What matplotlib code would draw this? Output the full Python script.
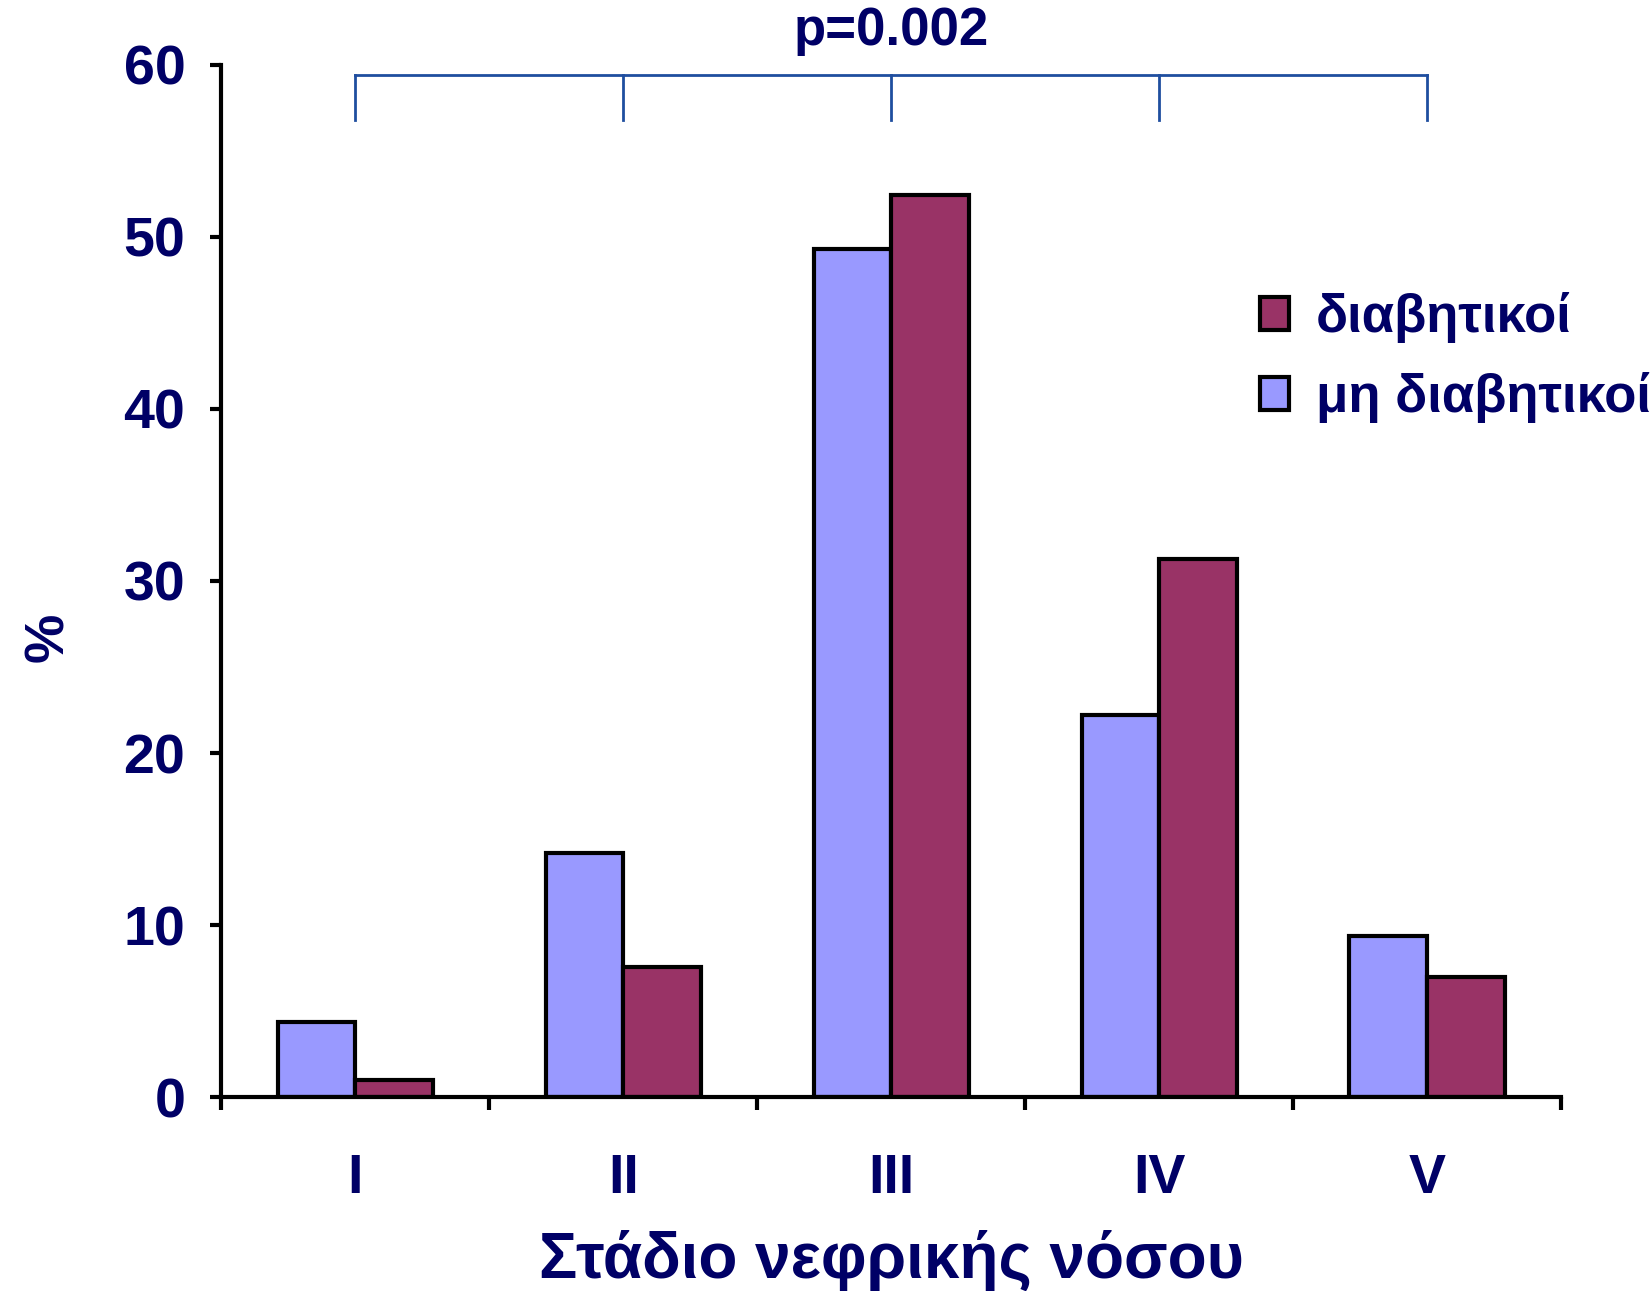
import matplotlib
matplotlib.use("Agg")
import matplotlib.pyplot as plt
import numpy as np
from matplotlib.patches import Patch

plt.rcParams['font.family'] = ['Liberation Sans', 'DejaVu Sans']
plt.rcParams['font.weight'] = 'bold'

stages = ["I", "II", "III", "IV", "V"]
non_diabetic = [4.4, 14.2, 49.3, 22.2, 9.4]
diabetic = [1.0, 7.6, 52.4, 31.3, 7.0]
p_text = "p=0.002"

navy = "#000066"
blue = "#9999FF"
maroon = "#993366"
bracket_col = "#1F4E9F"

fig = plt.figure(figsize=(16.52, 12.91), dpi=100)
ax = fig.add_axes([0.134, 0.150, 0.811, 0.800])

x = np.arange(len(stages))
w = 0.29
ax.bar(x - w / 2, non_diabetic, w, color=blue, edgecolor="black", linewidth=3, zorder=3)
ax.bar(x + w / 2, diabetic, w, color=maroon, edgecolor="black", linewidth=3, zorder=3)

ax.set_xlim(-0.5, len(stages) - 0.5)
ax.set_ylim(0, 60)

# spines: only left and bottom
for side in ("top", "right"):
    ax.spines[side].set_visible(False)
for side in ("left", "bottom"):
    ax.spines[side].set_linewidth(3)
    ax.spines[side].set_color("black")
    ax.spines[side].set_zorder(4)

ax.set_yticks(range(0, 61, 10))
ax.tick_params(axis="y", direction="out", length=8, width=3, pad=18,
               labelsize=40, labelcolor=navy)

# x ticks marks sit between the groups, labels at group centres
ax.set_xticks(np.arange(-0.5, len(stages), 1.0))
ax.set_xticklabels([])
ax.set_xticks(x, minor=True)
ax.set_xticklabels(stages, minor=True)
ax.tick_params(axis="x", which="major", direction="out", length=9, width=3)
ax.tick_params(axis="x", which="minor", length=0, pad=40, labelsize=40, labelcolor=navy)
for lab in ax.get_yticklabels() + ax.get_xticklabels(minor=True):
    lab.set_fontweight("bold")

ax.set_xlabel("Στάδιο νεφρικής νόσου", fontsize=46, color=navy, fontweight="bold", labelpad=18)
ax.set_ylabel("%", fontsize=40, color=navy, fontweight="bold", labelpad=40)
ax.yaxis.set_label_coords(-0.109, 0.445)

# significance bracket over all stages
top, drop = 59.4, 56.8
ax.plot([x[0], x[-1]], [top, top], color=bracket_col, lw=2, clip_on=False, zorder=5)
for xi in x:
    ax.plot([xi, xi], [top, drop], color=bracket_col, lw=2, clip_on=False, zorder=5)
ax.text(x[2], 60.5, p_text, ha="center", va="bottom", fontsize=38,
        color=navy, fontweight="bold", clip_on=False)

handles = [Patch(facecolor=maroon, edgecolor="black", linewidth=3, label="διαβητικοί"),
           Patch(facecolor=blue, edgecolor="black", linewidth=3, label="μη διαβητικοί")]
leg = fig.legend(handles=handles, loc="upper left", bbox_to_anchor=(0.750, 0.790),
                 frameon=False, fontsize=38, handlelength=0.55, handleheight=0.6,
                 handletextpad=0.5, labelspacing=0.55, borderaxespad=0)
for t in leg.get_texts():
    t.set_color(navy)
    t.set_fontweight("bold")

fig.savefig("out.png", dpi=100, facecolor="white")
